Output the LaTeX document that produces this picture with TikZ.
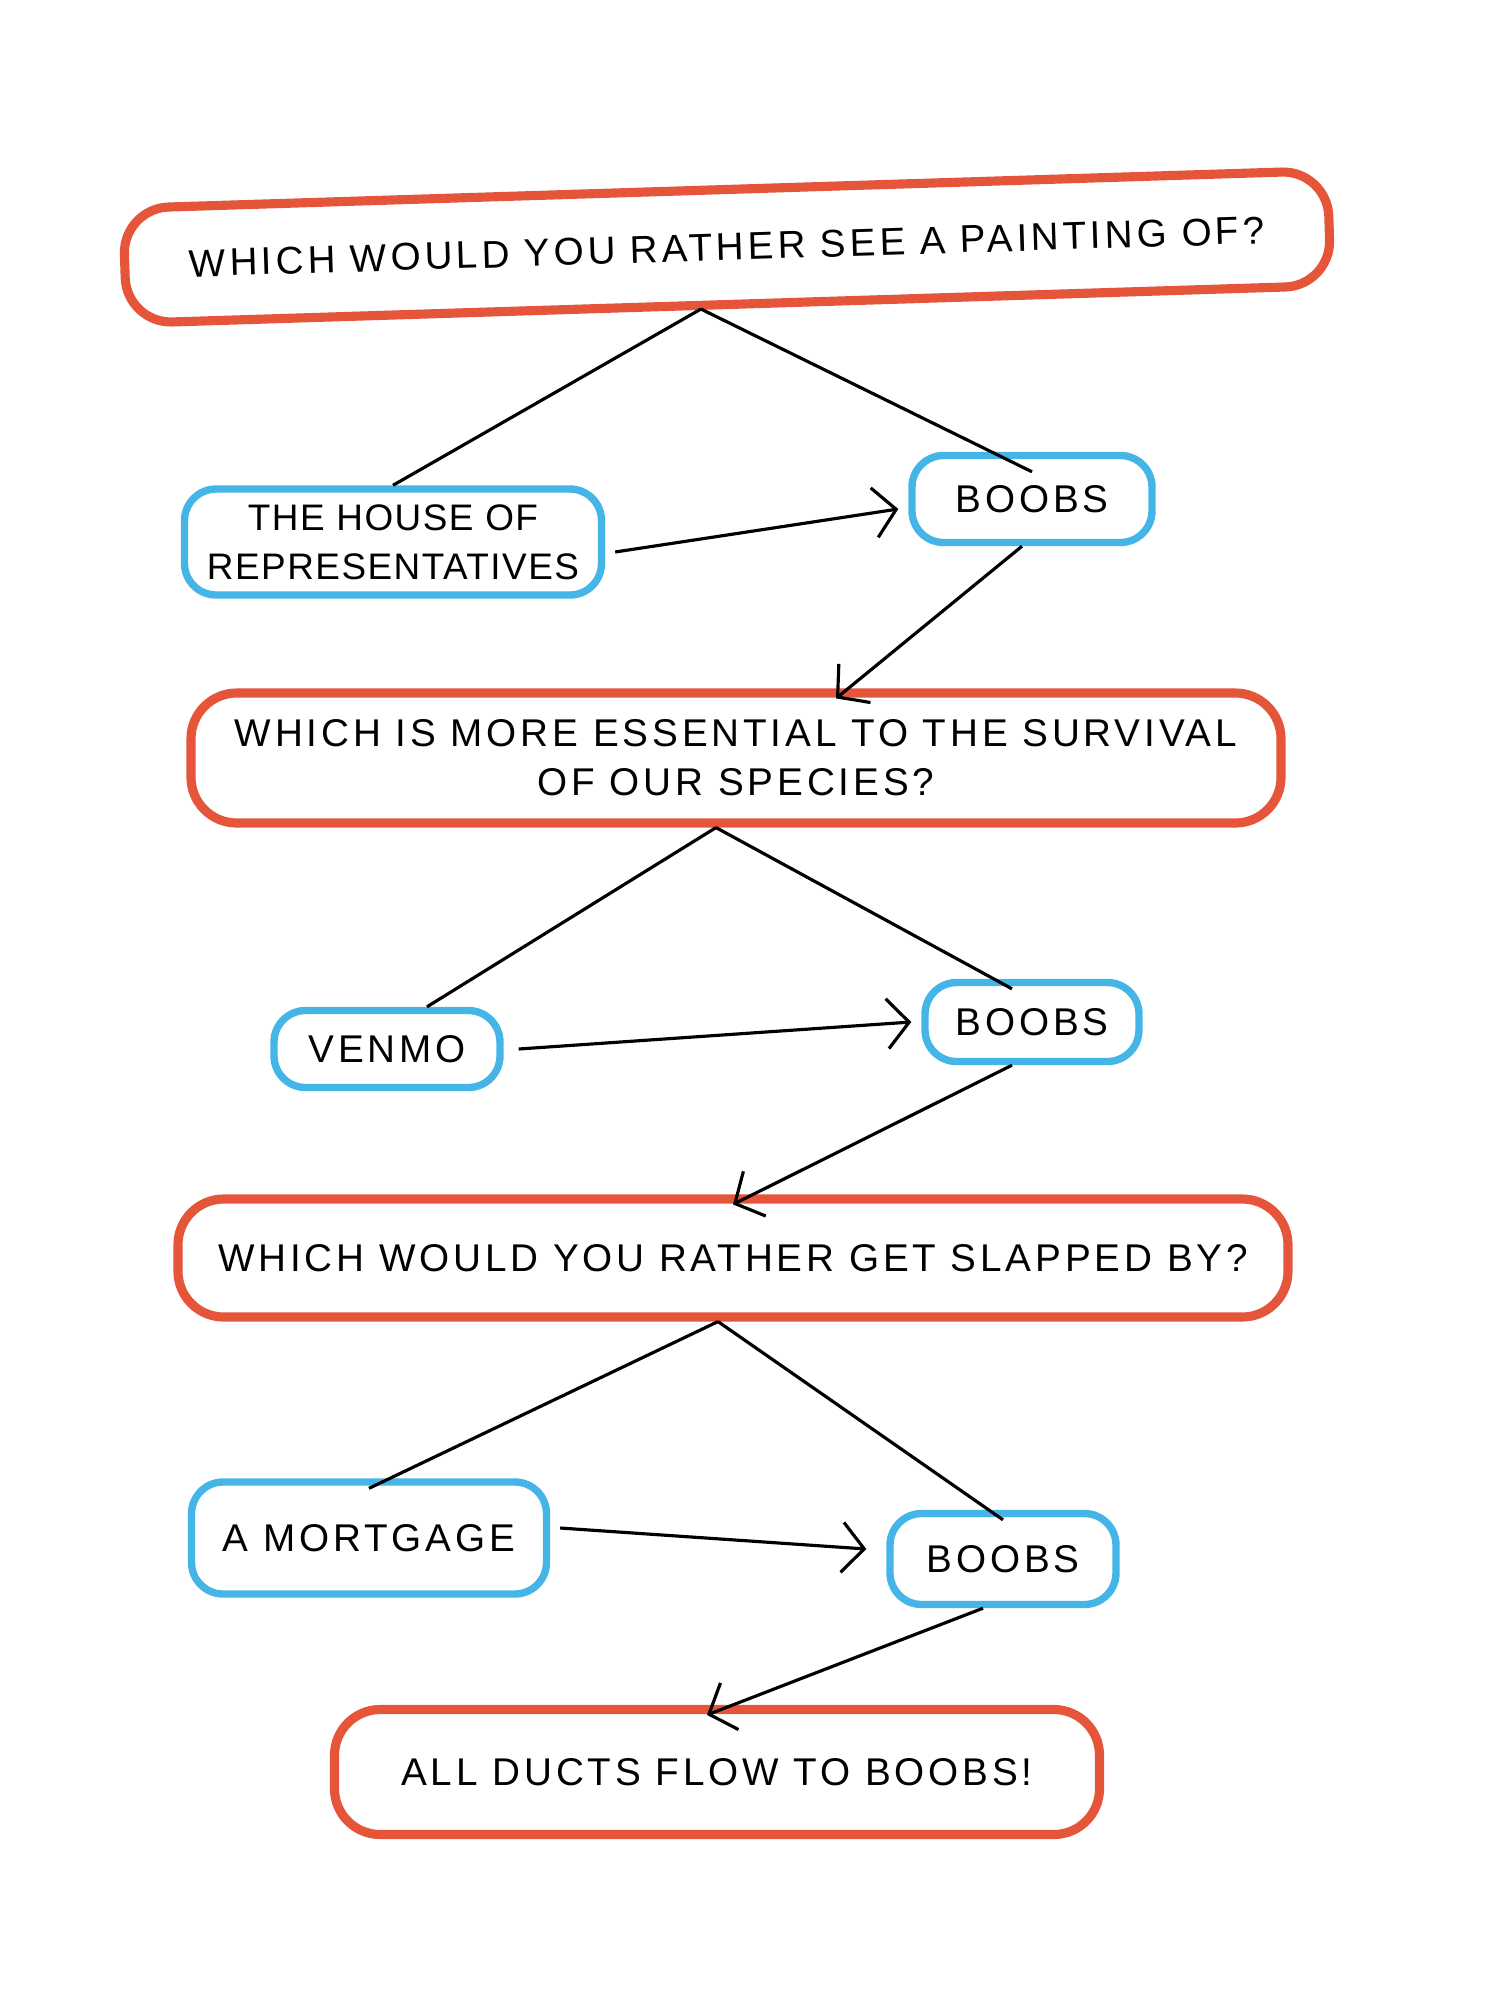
\documentclass[tikz,border=0pt]{standalone}
\usepackage{fontspec}
\setmainfont[LetterSpace=10]{Liberation Sans}
\usepackage{tikz}
\usetikzlibrary{arrows.meta,shapes}

\definecolor{crayonred}{HTML}{E5553A}
\definecolor{crayonblue}{HTML}{45B5E8}

\begin{document}
\begin{tikzpicture}[
    qbox/.style={draw=crayonred, line width=2.6pt, rounded corners=13pt,
      inner sep=0pt, align=center, font=\fontsize{11}{14}\selectfont},
    abox/.style={draw=crayonblue, line width=2.1pt, rounded corners=9pt,
      inner sep=0pt, align=center, font=\fontsize{11}{15}\selectfont},
    link/.style={line width=0.9pt},
    arr/.style={link, -{Straight Barb[length=2.2mm,width=5mm]}}]
   \useasboundingbox (0,0) rectangle (15,-20);

   % questions
   \node[qbox, minimum width=12.05cm, minimum height=1.15cm, rotate=1.8]
     (q1) at (7.27,-2.47) {WHICH WOULD YOU RATHER SEE A PAINTING OF?};
   \node[qbox, minimum width=10.9cm, minimum height=1.3cm]
     (q2) at (7.36,-7.58) {WHICH IS MORE ESSENTIAL TO THE SURVIVAL\\OF OUR SPECIES?};
   \node[qbox, minimum width=11.1cm, minimum height=1.18cm]
     (q3) at (7.33,-12.58) {WHICH WOULD YOU RATHER GET SLAPPED BY?};
   \node[qbox, minimum width=7.65cm, minimum height=1.25cm]
     (q4) at (7.17,-17.72) {ALL DUCTS FLOW TO BOOBS!};

   % answers
   \node[abox, minimum width=4.17cm, minimum height=1.06cm,
     font=\fontsize{10.5}{14}\selectfont\addfontfeatures{LetterSpace=4}]
     (house) at (3.93,-5.42) {THE HOUSE OF\\REPRESENTATIVES};
   \node[abox, minimum width=2.4cm, minimum height=0.87cm]
     (boobsA) at (10.32,-4.99) {BOOBS};
   \node[abox, minimum width=2.26cm, minimum height=0.77cm]
     (venmo) at (3.87,-10.49) {VENMO};
   \node[abox, minimum width=2.14cm, minimum height=0.79cm]
     (boobsB) at (10.32,-10.22) {BOOBS};
   \node[abox, minimum width=3.55cm, minimum height=1.12cm]
     (mortgage) at (3.69,-15.38) {A MORTGAGE};
   \node[abox, minimum width=2.26cm, minimum height=0.91cm]
     (boobsC) at (10.03,-15.59) {BOOBS};

   % choices
   \draw[link] ([xshift=-2.8mm]q1.south) -- (house.north);
   \draw[link] ([xshift=-2.8mm]q1.south) -- ([yshift=-2mm]boobsA.north);
   \draw[link] ([xshift=-2mm]q2.south) -- ([xshift=4mm]venmo.north);
   \draw[link] ([xshift=-2mm]q2.south) -- ([xshift=-2mm,yshift=-1mm]boobsB.north);
   \draw[link] ([xshift=-1.5mm]q3.south) -- ([yshift=-1mm]mortgage.north);
   \draw[link] ([xshift=-1.5mm]q3.south) -- ([yshift=-1mm]boobsC.north);

   % winners
   \draw[arr] ([xshift=1mm,yshift=-1mm]house.east) -- ([xshift=-1mm,yshift=-1mm]boobsA.west);
   \draw[arr] ([xshift=-1mm]boobsA.south) -- ([xshift=1cm,yshift=-1mm]q2.north);
   \draw[arr] ([xshift=1.5mm]venmo.east) -- ([xshift=-1mm]boobsB.west);
   \draw[arr] ([xshift=-2mm]boobsB.south) -- ([yshift=-1mm]q3.north);
   \draw[arr] ([xshift=1mm,yshift=1mm]mortgage.east) -- ([xshift=-2mm,yshift=1mm]boobsC.west);
   \draw[arr] ([xshift=-2mm]boobsC.south) -- ([xshift=-1mm,yshift=-1mm]q4.north);
\end{tikzpicture}
\end{document}
